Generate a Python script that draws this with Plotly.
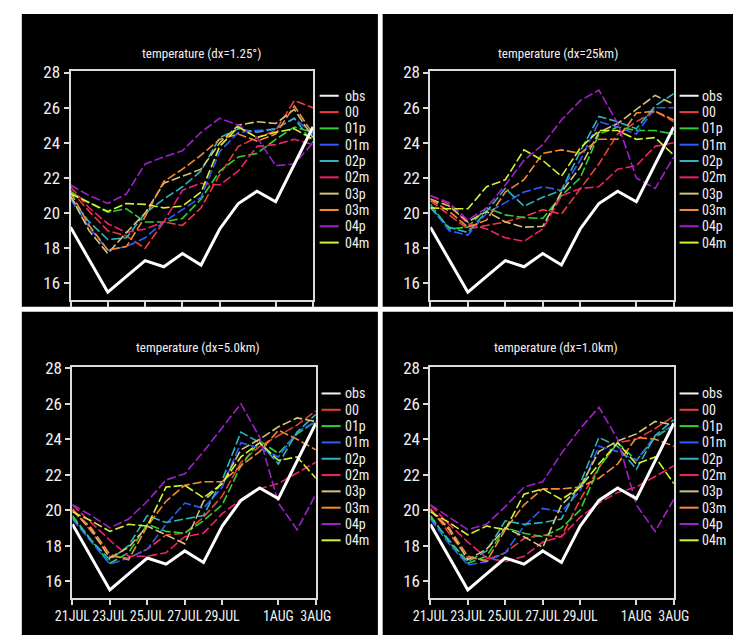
import plotly.graph_objects as go

# Daily axis, 21 July to 3 August
dates = ["21JUL", "22JUL", "23JUL", "24JUL", "25JUL", "26JUL", "27JUL",
         "28JUL", "29JUL", "30JUL", "31JUL", "1AUG", "2AUG", "3AUG"]
tick_labels = ["21JUL", "23JUL", "25JUL", "27JUL", "29JUL", "1AUG", "3AUG"]
y_ticks = [16, 18, 20, 22, 24, 26, 28]

members = ["00", "01p", "01m", "02p", "02m", "03p", "03m", "04p", "04m"]
member_colors = ["#ee3b3b", "#2ed22e", "#2f5cff", "#2fb4bc", "#f0206e",
                 "#d4c478", "#f28c34", "#a020cc", "#d6f234"]

# Observed temperature
obs = [19.2, 17.35, 15.5, 16.4, 17.3, 16.95, 17.7, 17.05, 19.1, 20.55, 21.25, 20.65, 22.8, 24.9]

# Ensemble runs, dx = 1.25 deg
run_125 = {
    "00":  [21.3, 20.1, 19.0, 18.7, 18.0, 19.5, 19.3, 20.3, 22.2, 23.8, 24.3, 24.7, 26.4, 26.0],
    "01p": [21.2, 20.6, 20.05, 20.25, 19.5, 19.5, 19.7, 20.8, 22.4, 23.2, 23.4, 24.2, 24.9, 24.6],
    "01m": [20.8, 19.2, 17.9, 18.1, 18.6, 19.5, 20.2, 20.9, 23.5, 24.6, 24.7, 24.8, 25.4, 24.5],
    "02p": [20.9, 19.5, 18.5, 18.6, 20.0, 20.8, 21.5, 22.4, 24.3, 24.8, 24.6, 24.8, 25.4, 24.0],
    "02m": [21.5, 20.3, 19.4, 18.9, 19.1, 19.5, 21.3, 21.7, 21.6, 22.4, 23.8, 23.9, 24.2, 23.9],
    "03p": [21.0, 19.0, 17.7, 18.9, 20.0, 21.7, 22.1, 22.5, 24.0, 25.0, 25.2, 25.1, 25.9, 24.3],
    "03m": [21.2, 19.3, 17.9, 18.1, 19.8, 21.8, 22.5, 23.3, 24.2, 24.5, 24.1, 24.5, 26.1, 24.5],
    "04p": [21.6, 21.0, 20.55, 21.1, 22.8, 23.2, 23.55, 24.6, 25.4, 25.0, 24.3, 22.7, 22.8, 24.0],
    "04m": [21.1, 20.6, 20.1, 20.55, 20.5, 20.3, 20.4, 21.2, 23.8, 24.9, 24.3, 24.6, 24.8, 24.2],
}

# Ensemble runs, dx = 25 km
run_25 = {
    "00":  [20.7, 19.9, 19.1, 19.3, 19.5, 19.8, 20.2, 19.95, 21.4, 22.8, 24.5, 25.2, 25.8, 25.2],
    "01p": [20.5, 19.1, 19.2, 20.3, 19.9, 19.75, 19.7, 21.0, 22.0, 24.5, 24.9, 24.7, 24.7, 24.5],
    "01m": [20.4, 19.0, 18.75, 20.0, 20.6, 21.2, 21.5, 21.3, 23.0, 25.2, 24.9, 24.5, 26.0, 26.0],
    "02p": [20.3, 19.2, 18.9, 20.1, 21.4, 20.4, 20.9, 21.3, 23.5, 25.5, 25.2, 24.8, 26.1, 26.8],
    "02m": [21.0, 20.5, 19.4, 19.1, 18.6, 18.4, 19.1, 21.0, 21.4, 21.5, 22.5, 22.7, 23.8, 24.0],
    "03p": [20.8, 20.4, 19.5, 20.1, 19.5, 19.2, 19.25, 21.2, 22.6, 24.6, 25.1, 25.9, 26.7, 26.2],
    "03m": [20.8, 20.1, 19.2, 19.6, 21.2, 21.9, 23.4, 23.6, 23.4, 24.2, 24.2, 25.7, 25.8, 25.3],
    "04p": [21.0, 20.6, 19.6, 20.3, 21.6, 23.0, 23.9, 25.3, 26.4, 27.0, 25.1, 22.0, 21.4, 23.2],
    "04m": [20.3, 20.25, 20.25, 21.5, 21.9, 23.6, 23.0, 22.1, 23.7, 24.7, 24.7, 24.2, 24.3, 23.3],
}

# Ensemble runs, dx = 5.0 km
run_5 = {
    "00":  [20.1, 18.8, 17.4, 17.3, 17.8, 18.6, 18.7, 19.6, 20.8, 22.7, 23.6, 24.2, 24.8, 25.6],
    "01p": [19.7, 18.3, 17.0, 17.6, 19.2, 18.8, 18.7, 19.4, 20.3, 22.5, 23.9, 23.2, 24.3, 25.0],
    "01m": [19.5, 18.2, 16.95, 17.3, 17.8, 19.2, 20.4, 20.1, 21.3, 23.8, 23.5, 23.0, 24.4, 25.0],
    "02p": [19.6, 18.3, 17.2, 18.0, 19.7, 19.3, 19.5, 19.7, 21.7, 24.4, 23.8, 22.6, 24.4, 25.4],
    "02m": [20.3, 19.3, 18.3, 17.4, 17.4, 17.6, 18.5, 18.7, 19.8, 20.6, 21.2, 21.5, 22.1, 22.7],
    "03p": [20.0, 18.9, 17.3, 17.9, 19.1, 18.6, 18.1, 20.5, 21.5, 23.4, 24.0, 24.7, 25.2, 25.0],
    "03m": [20.0, 19.0, 17.5, 17.2, 19.1, 20.5, 21.4, 21.6, 21.6, 22.5, 23.3, 24.5, 24.0, 23.4],
    "04p": [20.3, 19.7, 19.0, 19.5, 20.5, 21.7, 22.05, 23.3, 24.65, 26.0, 24.1, 20.4, 18.9, 20.9],
    "04m": [19.9, 19.4, 18.8, 19.2, 19.1, 21.3, 21.4, 20.7, 21.5, 23.0, 23.8, 22.8, 23.0, 21.8],
}

# Ensemble runs, dx = 1.0 km
run_1 = {
    "00":  [20.1, 18.7, 17.3, 17.2, 17.6, 18.4, 18.6, 18.5, 20.6, 22.4, 23.8, 24.0, 24.6, 25.3],
    "01p": [19.7, 18.2, 17.0, 17.4, 19.0, 18.7, 18.5, 19.0, 20.0, 22.4, 23.8, 22.8, 24.1, 24.8],
    "01m": [19.5, 18.1, 16.9, 17.1, 17.6, 19.1, 20.1, 19.9, 21.1, 23.6, 23.3, 22.8, 24.2, 24.8],
    "02p": [19.6, 18.3, 17.1, 17.7, 19.4, 19.2, 19.3, 19.5, 21.5, 24.1, 23.6, 22.3, 24.2, 25.1],
    "02m": [20.3, 19.2, 18.2, 17.3, 17.1, 17.4, 18.2, 18.5, 19.6, 20.4, 21.0, 21.3, 21.9, 22.5],
    "03p": [20.0, 18.9, 17.2, 17.8, 19.0, 18.5, 17.9, 20.3, 21.3, 23.3, 23.9, 24.3, 25.0, 24.8],
    "03m": [20.0, 19.0, 17.4, 17.1, 18.9, 20.3, 21.2, 21.2, 21.3, 21.8, 22.6, 24.1, 24.0, 23.6],
    "04p": [20.3, 19.6, 18.9, 19.2, 20.2, 21.3, 21.6, 23.2, 24.6, 25.8, 24.0, 20.3, 18.8, 20.6],
    "04m": [19.9, 19.3, 18.6, 19.1, 18.9, 20.9, 21.2, 20.6, 21.3, 22.6, 23.8, 22.6, 23.0, 21.5],
}

W, H = 749, 635
FONT = "Roboto Condensed, Liberation Sans, sans-serif"
FRAME = "#dcdcdc"
TEXT = "#f0f0f0"


def fx(px):
    return px / W


def fy(py):
    return 1 - py / H


# (title, runs, plot box [x0, x1, y0, y1] px, black tile, title centre, key origin, show dates)
panels = [
    ("temperature (dx=1.25\u00b0)", run_125, (55, 309, 63, 295), (4, 377, 5, 302), (192, 45), (316, 341, 88), False),
    ("temperature (dx=25km)", run_25, (432, 687, 63, 295), (382, 749, 5, 302), (566, 45), (693, 716, 88), False),
    ("temperature (dx=5.0km)", run_5, (57, 312, 363, 597), (4, 377, 307, 635), (189, 343), (318, 341, 390), True),
    ("temperature (dx=1.0km)", run_1, (432, 687, 363, 597), (382, 749, 307, 635), (564, 343), (693, 716, 390), True),
]

fig = go.Figure()
shapes = []
annotations = []
dash = "9px,3px"
key_step = 16.55
key_names = ["obs"] + members
key_colors = ["#f4f4f4"] + member_colors

for i, (title, runs, box, tile, tpos, lpos, show_dates) in enumerate(panels):
    n = "" if i == 0 else str(i + 1)
    xa, ya = "x" + n, "y" + n

    for name, color in zip(members, member_colors):
        fig.add_trace(go.Scatter(x=dates, y=runs[name], mode="lines", name=name,
                                 line=dict(color=color, width=1.6, dash=dash),
                                 xaxis=xa, yaxis=ya, showlegend=False))
    fig.add_trace(go.Scatter(x=dates, y=obs, mode="lines", name="obs",
                             line=dict(color="white", width=3),
                             xaxis=xa, yaxis=ya, showlegend=False))

    x0, x1, y0, y1 = box
    axis_common = dict(showline=True, mirror=True, linecolor=FRAME, linewidth=2,
                       ticks="outside", ticklen=5, tickwidth=1.5, tickcolor=FRAME,
                       showgrid=False, zeroline=False)
    fig.update_layout(**{
        "xaxis" + n: dict(axis_common, domain=[fx(x0), fx(x1)], anchor=ya,
                          type="category", range=[0, len(dates) - 1], tickangle=0,
                          tickmode="array", tickvals=tick_labels, ticktext=tick_labels,
                          showticklabels=show_dates,
                          tickfont=dict(family=FONT, size=14, color=TEXT)),
        "yaxis" + n: dict(axis_common, domain=[fy(y1), fy(y0)], anchor=xa,
                          range=[15.07, 28.08], tickvals=y_ticks,
                          tickfont=dict(family=FONT, size=17, color=TEXT)),
    })

    tx0, tx1, ty0, ty1 = tile
    shapes.append(dict(type="rect", xref="paper", yref="paper", layer="below",
                       x0=fx(tx0), x1=fx(tx1), y0=fy(ty1), y1=fy(ty0),
                       fillcolor="black", line=dict(width=0)))

    annotations.append(dict(text=title, xref="paper", yref="paper",
                            x=fx(tpos[0]), y=fy(tpos[1]), xanchor="center", yanchor="middle",
                            showarrow=False, font=dict(family=FONT, size=13, color=TEXT)))

    # key: a solid swatch and a label per series
    lx0, ltext, ly = lpos
    for k, (name, color) in enumerate(zip(key_names, key_colors)):
        yy = ly + k * key_step
        shapes.append(dict(type="line", xref="paper", yref="paper",
                           x0=fx(lx0), x1=fx(lx0 + 20), y0=fy(yy), y1=fy(yy),
                           line=dict(color=color, width=2)))
        annotations.append(dict(text=name, xref="paper", yref="paper",
                                x=fx(ltext), y=fy(yy), xanchor="left", yanchor="middle",
                                showarrow=False, borderpad=0,
                                font=dict(family=FONT, size=14, color=TEXT)))

fig.update_layout(width=W, height=H, margin=dict(l=0, r=0, t=0, b=0),
                  paper_bgcolor="white", plot_bgcolor="black",
                  shapes=shapes, annotations=annotations, showlegend=False)

# the figure fills the whole page, so drop the default body margin
page_css = "document.body.style.margin='0';document.body.style.overflow='hidden';"
fig.write_html("out.html", post_script=page_css)
